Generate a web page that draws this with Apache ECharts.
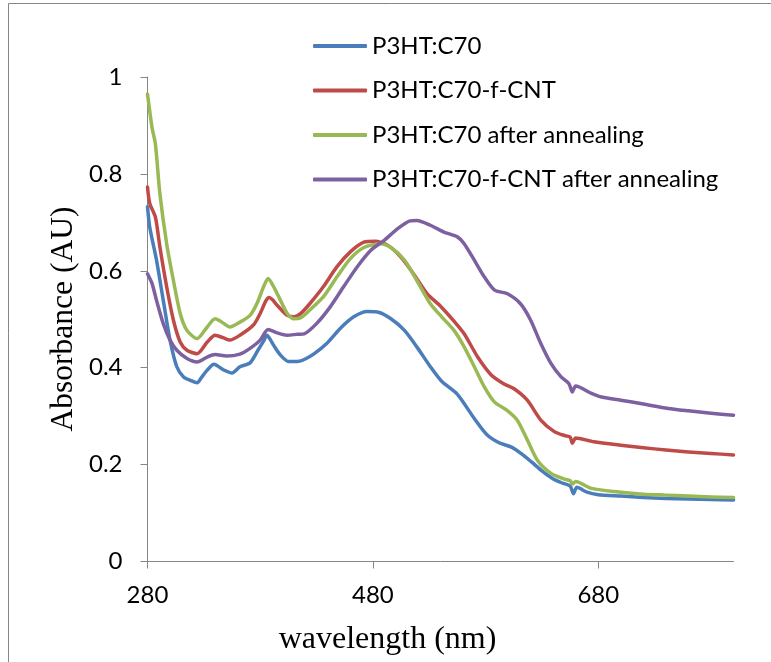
<!DOCTYPE html>
<html>
<head>
<meta charset="utf-8">
<script src="https://cdn.jsdelivr.net/npm/echarts@6/dist/echarts.min.js"></script>
<style>
  html, body { margin: 0; padding: 0; background: #ffffff; }
  #chart { width: 771px; height: 662px; }
</style>
</head>
<body>
<div id="chart"></div>
<script>
// ---- Data ----
const seriesNames = ['P3HT:C70', 'P3HT:C70-f-CNT', 'P3HT:C70 after annealing', 'P3HT:C70-f-CNT after annealing'];
const xTicks = [280, 480, 680];
const yTicks = [0, 0.2, 0.4, 0.6, 0.8, 1];

const blueWl = [280, 282, 288, 294, 300, 306, 312, 318, 324, 328, 333, 339, 347, 355, 362, 371, 378, 383, 386, 389, 392, 398, 405, 413, 420, 428, 439, 451, 463, 475, 484, 496, 508, 519, 531, 541, 555, 570, 581, 592, 603, 612, 621, 630, 639, 648, 655, 658, 661, 670, 680, 700, 720, 740, 760, 780, 800];
const blueAbs = [0.732, 0.690, 0.622, 0.539, 0.457, 0.402, 0.381, 0.374, 0.369, 0.380, 0.395, 0.407, 0.396, 0.389, 0.402, 0.410, 0.436, 0.455, 0.467, 0.458, 0.446, 0.426, 0.413, 0.413, 0.418, 0.429, 0.450, 0.481, 0.505, 0.516, 0.515, 0.501, 0.477, 0.443, 0.402, 0.372, 0.345, 0.295, 0.262, 0.245, 0.236, 0.222, 0.205, 0.187, 0.172, 0.162, 0.156, 0.140, 0.153, 0.143, 0.138, 0.135, 0.132, 0.130, 0.129, 0.128, 0.127];

const redWl = [280, 282, 287, 291, 297, 303, 309, 315, 324, 333, 340, 347, 353, 362, 374, 380, 385, 388, 391, 395, 404, 410, 416, 424, 436, 448, 460, 472, 482, 493, 505, 516, 528, 540, 552, 561, 573, 585, 596, 605, 617, 629, 641, 650, 655, 657, 660, 676, 700, 720, 740, 760, 780, 800];
const redAbs = [0.773, 0.739, 0.711, 0.649, 0.567, 0.498, 0.453, 0.436, 0.429, 0.453, 0.467, 0.462, 0.457, 0.467, 0.488, 0.512, 0.538, 0.545, 0.540, 0.529, 0.508, 0.505, 0.512, 0.532, 0.567, 0.608, 0.639, 0.659, 0.661, 0.653, 0.628, 0.594, 0.553, 0.527, 0.496, 0.470, 0.422, 0.385, 0.367, 0.357, 0.333, 0.292, 0.268, 0.260, 0.257, 0.244, 0.255, 0.247, 0.240, 0.235, 0.230, 0.226, 0.223, 0.220];

const greenWl = [280, 284, 287, 291, 297, 303, 309, 315, 324, 333, 340, 346, 353, 362, 371, 377, 383, 387, 392, 398, 404, 410, 416, 424, 436, 448, 460, 472, 487, 496, 508, 519, 531, 541, 552, 561, 570, 579, 588, 599, 608, 617, 626, 638, 650, 655, 657, 660, 674, 700, 720, 740, 760, 780, 800];
const greenAbs = [0.965, 0.896, 0.862, 0.759, 0.656, 0.580, 0.512, 0.477, 0.460, 0.484, 0.501, 0.494, 0.484, 0.494, 0.508, 0.532, 0.567, 0.584, 0.567, 0.539, 0.512, 0.501, 0.503, 0.519, 0.546, 0.587, 0.625, 0.648, 0.656, 0.648, 0.622, 0.580, 0.532, 0.505, 0.477, 0.443, 0.402, 0.360, 0.329, 0.312, 0.292, 0.251, 0.209, 0.182, 0.170, 0.167, 0.160, 0.165, 0.151, 0.143, 0.139, 0.137, 0.135, 0.133, 0.132];

const purpleWl = [280, 284, 288, 294, 300, 306, 315, 324, 333, 340, 350, 362, 371, 380, 387, 395, 404, 413, 419, 430, 442, 454, 466, 478, 490, 502, 513, 519, 531, 543, 555, 561, 570, 579, 588, 599, 611, 620, 629, 638, 647, 654, 657, 660, 674, 682, 700, 720, 742, 760, 780, 800];
const purpleAbs = [0.594, 0.574, 0.539, 0.491, 0.457, 0.436, 0.419, 0.412, 0.422, 0.427, 0.424, 0.428, 0.440, 0.457, 0.479, 0.472, 0.467, 0.469, 0.470, 0.491, 0.525, 0.567, 0.608, 0.642, 0.663, 0.687, 0.703, 0.704, 0.694, 0.680, 0.670, 0.656, 0.622, 0.587, 0.560, 0.553, 0.532, 0.498, 0.450, 0.409, 0.381, 0.367, 0.350, 0.362, 0.347, 0.340, 0.333, 0.325, 0.316, 0.311, 0.306, 0.302];

// ---- Styling ----
const colors = ['#4A7EBB', '#BE4B48', '#98B954', '#7D60A0'];
const axisGray = '#868686';
const sansFont = 'Lato';
const serifFont = 'Liberation Serif';

function pairs(xs, ys) { return xs.map((x, i) => [x, ys[i]]); }

const allData = [
  pairs(blueWl, blueAbs),
  pairs(redWl, redAbs),
  pairs(greenWl, greenAbs),
  pairs(purpleWl, purpleAbs)
];

const chart = echarts.init(document.getElementById('chart'), null, { renderer: 'canvas' });

chart.setOption({
  animation: false,
  backgroundColor: '#ffffff',
  color: colors,
  grid: { left: 147.5, top: 77, right: 37.5, bottom: 100.5, containLabel: false },
  legend: {
    data: seriesNames,
    orient: 'vertical',
    left: 313,
    top: 32,
    padding: 0,
    icon: 'roundRect',
    itemWidth: 54,
    itemHeight: 4,
    itemGap: 16.5,
    textStyle: { fontFamily: sansFont, fontSize: 24, color: '#000', lineHeight: 28 }
  },
  xAxis: {
    type: 'value',
    min: 280,
    max: 800,
    interval: 200,
    axisLine: { show: true, lineStyle: { color: axisGray, width: 1 } },
    axisTick: { show: true, length: 7, lineStyle: { color: axisGray }, customValues: xTicks },
    axisLabel: { margin: 22, fontFamily: sansFont, fontSize: 24, color: '#000', customValues: xTicks },
    splitLine: { show: false }
  },
  yAxis: {
    type: 'value',
    min: 0,
    max: 1,
    interval: 0.2,
    axisLine: { show: true, lineStyle: { color: axisGray, width: 1 } },
    axisTick: { show: true, length: 7, lineStyle: { color: axisGray }, customValues: yTicks },
    axisLabel: { margin: 25, fontFamily: sansFont, fontSize: 24, color: '#000', customValues: yTicks },
    splitLine: { show: false }
  },
  graphic: [
    {
      type: 'rect', silent: true, z: -1,
      shape: { x: 8.5, y: 3.5, width: 800, height: 700 },
      style: { fill: 'none', stroke: axisGray, lineWidth: 1 }
    },
    {
      type: 'text', x: 387.5, y: 640,
      style: { text: 'wavelength (nm)', font: '32px "' + serifFont + '"', fill: '#000', textAlign: 'center', textVerticalAlign: 'middle' }
    },
    {
      type: 'text', x: 64, y: 319, rotation: Math.PI / 2,
      style: { text: 'Absorbance (AU)', font: '31.5px "' + serifFont + '"', fill: '#000', textAlign: 'center', textVerticalAlign: 'middle' }
    }
  ],
  series: seriesNames.map((name, i) => ({
    name: name,
    type: 'line',
    data: allData[i],
    showSymbol: false,
    symbol: 'none',
    smooth: 0.25,
    lineStyle: { width: 3.5, color: colors[i], cap: 'round', join: 'round' },
    itemStyle: { color: colors[i] },
    emphasis: { disabled: true }
  }))
});
</script>
</body>
</html>
